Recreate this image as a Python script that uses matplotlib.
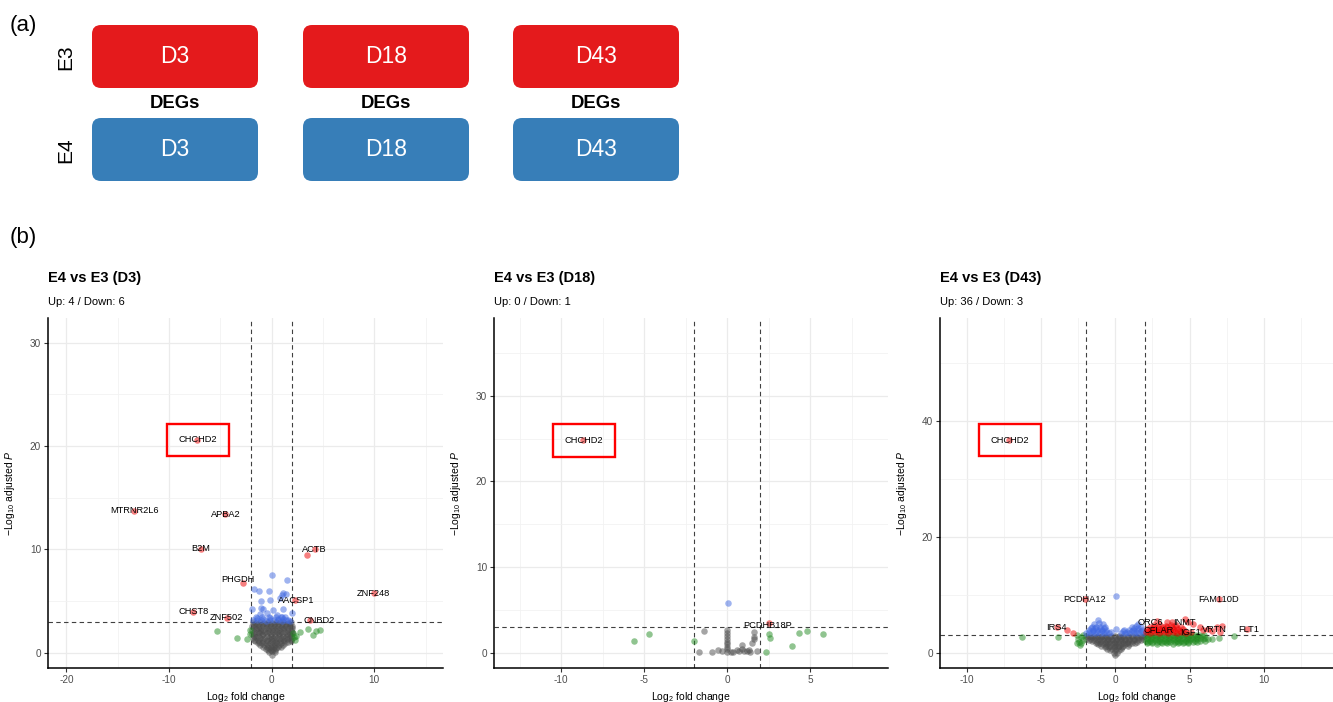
import numpy as np
import matplotlib
matplotlib.use('Agg')
import matplotlib.pyplot as plt
from matplotlib.patches import FancyBboxPatch
from matplotlib.ticker import MultipleLocator

plt.rcParams['font.family'] = ['Liberation Sans', 'DejaVu Sans']
plt.rcParams['mathtext.fontset'] = 'custom'
plt.rcParams['mathtext.rm'] = 'Liberation Sans'
plt.rcParams['mathtext.it'] = 'Liberation Sans:italic'
plt.rcParams['mathtext.bf'] = 'Liberation Sans:bold'
plt.rcParams['axes.unicode_minus'] = False

# design of the comparison
days = ['D3', 'D18', 'D43']
genotypes = ['E3', 'E4']
up_counts = [4, 0, 36]
down_counts = [6, 1, 3]

# ---- D3 volcano: (log2 fold change, -log10 padj) ----
d3_ns = [(-1.85, 2.95), (-1.5, 2.9), (-1.1, 2.97), (-0.75, 2.92), (-0.35, 2.96), (0.05, 2.9), (0.4, 2.95),
         (0.8, 2.93), (1.15, 2.97), (1.55, 2.9), (1.9, 2.95),
         (-1.7, 2.78), (-1.3, 2.76), (-0.9, 2.8), (-0.55, 2.77), (-0.15, 2.79), (0.25, 2.76), (0.6, 2.8),
         (1.0, 2.77), (1.35, 2.79), (1.72, 2.76),
         (-1.95, 2.6), (-1.6, 2.55), (-1.2, 2.62), (-0.85, 2.58), (-0.45, 2.6), (-0.1, 2.55), (0.3, 2.6),
         (0.65, 2.62), (1.0, 2.57), (1.4, 2.6), (1.75, 2.55), (2.0, 2.6),
         (-1.75, 2.4), (-1.35, 2.38), (-1.0, 2.42), (-0.6, 2.39), (-0.25, 2.41), (0.15, 2.38), (0.5, 2.42),
         (0.9, 2.39), (1.25, 2.41), (1.6, 2.38), (1.95, 2.4),
         (-1.9, 2.2), (-1.55, 2.25), (-1.15, 2.18), (-0.8, 2.22), (-0.4, 2.2), (0.0, 2.24), (0.35, 2.18),
         (0.75, 2.2), (1.1, 2.25), (1.5, 2.2), (1.85, 2.18),
         (-1.75, 2.02), (-1.38, 2.0), (-1.0, 2.04), (-0.62, 2.01), (-0.25, 2.03), (0.15, 2.0), (0.5, 2.04),
         (0.88, 2.01), (1.28, 2.03), (1.62, 2.0), (1.95, 2.02),
         (-1.95, 1.85), (-1.6, 1.82), (-1.2, 1.87), (-0.85, 1.84), (-0.45, 1.86), (-0.05, 1.82), (0.3, 1.85),
         (0.7, 1.88), (1.05, 1.83), (1.45, 1.85), (1.8, 1.82), (2.0, 1.86),
         (-1.7, 1.65), (-1.3, 1.63), (-0.9, 1.67), (-0.5, 1.64), (-0.1, 1.66), (0.3, 1.63), (0.7, 1.67),
         (1.1, 1.64), (1.5, 1.66), (1.85, 1.63),
         (-1.85, 1.45), (-1.5, 1.48), (-1.1, 1.42), (-0.7, 1.46), (-0.3, 1.44), (0.1, 1.47), (0.5, 1.43),
         (0.9, 1.46), (1.3, 1.44), (1.7, 1.47), (1.95, 1.42),
         (-1.7, 1.27), (-1.3, 1.25), (-0.9, 1.29), (-0.5, 1.26), (-0.1, 1.28), (0.3, 1.25), (0.7, 1.29),
         (1.1, 1.26), (1.5, 1.28), (1.85, 1.25),
         (-1.6, 1.1), (-1.2, 1.08), (-0.8, 1.12), (-0.4, 1.09), (0.0, 1.11), (0.4, 1.08), (0.8, 1.12),
         (1.2, 1.1), (1.6, 1.07), (1.9, 1.12),
         (-1.3, 0.92), (-0.9, 0.9), (-0.55, 0.94), (-0.2, 0.91), (0.2, 0.93), (0.55, 0.9), (0.9, 0.94),
         (1.3, 0.91),
         (-1.1, 0.75), (-0.7, 0.78), (-0.35, 0.73), (0.0, 0.76), (0.35, 0.74), (0.7, 0.77), (1.1, 0.75),
         (-0.8, 0.57), (-0.45, 0.59), (-0.1, 0.56), (0.25, 0.58), (0.6, 0.55), (0.9, 0.58),
         (-0.6, 0.4), (-0.25, 0.42), (0.1, 0.38), (0.45, 0.41),
         (-0.4, 0.25), (-0.05, 0.26), (0.3, 0.24),
         (-0.3, 0.1), (0.0, 0.12), (0.3, 0.09), (0.0, -0.2)]
d3_fc = [(-5.3, 2.1), (-3.4, 1.4), (-2.45, 1.3), (-2.1, 2.2), (-2.15, 1.8), (2.05, 1.9), (2.15, 1.55),
         (2.4, 1.6), (2.75, 2.05), (2.3, 1.25), (3.55, 2.3), (4.05, 1.7), (4.3, 2.1), (4.7, 2.2)]
d3_p = [(0.0, 7.53), (1.46, 7.04), (-1.72, 6.14), (-1.23, 6.01), (-0.23, 6.01), (1.14, 5.75), (1.4, 5.68),
        (0.97, 5.59), (-1.04, 5.0), (-0.16, 5.1), (0.81, 5.26), (-1.95, 4.2), (-1.04, 4.3), (-0.81, 4.2),
        (0.1, 4.13), (1.07, 4.23), (1.95, 3.88), (-1.14, 3.75), (-0.49, 3.81), (0.49, 3.65), (0.97, 3.42),
        (-1.46, 3.33), (-0.81, 3.23), (-0.16, 3.33), (1.14, 3.23), (1.62, 3.17), (0.65, 3.23),
        (-1.8, 3.15), (-1.4, 3.12), (-1.0, 3.16), (-0.6, 3.1), (-0.2, 3.14), (0.2, 3.12), (0.6, 3.15),
        (1.0, 3.1), (1.4, 3.13), (1.8, 3.1), (-1.5, 3.45), (-0.9, 3.48), (-0.3, 3.44), (0.4, 3.46),
        (0.9, 3.5), (1.3, 3.45)]
d3_sig = [(-7.3, 20.6), (-13.4, 13.76), (-4.5, 13.44), (-6.88, 10.08), (-2.76, 6.72), (3.41, 9.43),
          (4.22, 10.0), (9.97, 5.75), (2.27, 5.1), (-7.63, 3.97), (-4.38, 3.39), (3.73, 3.17)]
d3_labels = [('CHCHD2', -7.2, 20.6), ('MTRNR2L6', -13.34, 13.8), ('APBA2', -4.51, 13.4), ('B2M', -6.88, 10.08),
             ('PHGDH', -3.34, 7.04), ('ACTB', 4.19, 10.0), ('ZNF248', 9.94, 5.75), ('AACSP1', 2.37, 5.07),
             ('CHST8', -7.63, 3.97), ('ZNF502', -4.38, 3.39), ('CNBD2', 4.61, 3.13)]

# ---- D18 volcano ----
d18_ns = [(-1.4, 2.53), (-1.72, 0.12), (-0.9, 0.12), (-0.54, 0.32), (-0.3, 0.2), (0.0, 2.65), (0.0, 2.3),
          (0.0, 1.95), (0.0, 1.6), (0.0, 1.3), (0.0, 1.0), (0.0, 0.7), (0.0, 0.4), (0.0, 0.12), (0.2, 0.1),
          (0.36, 0.12), (0.56, 0.32), (0.7, 0.15), (0.87, 0.39), (1.0, 0.2), (1.17, 0.2), (1.3, 0.3),
          (0.9, 0.9), (1.47, 1.1), (1.61, 1.87), (1.6, 1.6), (1.61, 2.46), (1.81, 0.24), (1.4, 0.1)]
d18_fc = [(-5.6, 1.4), (-4.72, 2.18), (-2.0, 1.4), (2.53, 2.18), (2.57, 1.68), (2.33, 0.12), (3.92, 0.82),
          (4.34, 2.34), (4.82, 2.57), (5.74, 2.14)]
d18_p = [(0.02, 5.77)]
d18_sig = [(-8.7, 24.8), (2.51, 3.43)]
d18_labels = [('CHCHD2', -8.63, 24.8), ('PCDHB18P', 2.41, 3.15)]

# ---- D43 volcano ----
d43_ns = [(-2.0, 2.95), (-1.72, 2.9), (-1.45, 2.97), (-1.15, 2.92), (-0.88, 2.96), (-0.6, 2.9), (-0.3, 2.95),
          (-0.02, 2.92), (0.28, 2.97), (0.55, 2.9), (0.85, 2.95), (1.12, 2.92), (1.42, 2.96), (1.7, 2.9),
          (1.95, 2.94),
          (-1.85, 2.7), (-1.55, 2.68), (-1.25, 2.72), (-0.95, 2.69), (-0.65, 2.71), (-0.35, 2.68),
          (-0.05, 2.72), (0.25, 2.69), (0.55, 2.71), (0.85, 2.68), (1.15, 2.72), (1.45, 2.69), (1.8, 2.7),
          (-1.95, 2.45), (-1.65, 2.4), (-1.35, 2.47), (-1.05, 2.42), (-0.78, 2.46), (-0.5, 2.4), (-0.2, 2.45),
          (0.08, 2.43), (0.38, 2.47), (0.66, 2.41), (0.95, 2.45), (1.25, 2.42), (1.55, 2.46), (1.85, 2.4),
          (-1.75, 2.2), (-1.45, 2.18), (-1.15, 2.22), (-0.85, 2.19), (-0.55, 2.21), (-0.25, 2.18),
          (0.05, 2.22), (0.35, 2.19), (0.65, 2.21), (0.95, 2.18), (1.25, 2.22), (1.5, 2.19), (1.75, 2.25),
          (-1.55, 1.95), (-1.25, 1.92), (-0.95, 1.97), (-0.65, 1.93), (-0.35, 1.96), (-0.05, 1.92),
          (0.25, 1.95), (0.55, 1.97), (0.85, 1.93), (1.15, 1.95), (1.45, 1.92),
          (-1.3, 1.7), (-1.0, 1.68), (-0.7, 1.72), (-0.4, 1.69), (-0.1, 1.71), (0.2, 1.68), (0.5, 1.72),
          (0.8, 1.69), (1.1, 1.71), (1.3, 1.68),
          (-1.15, 1.45), (-0.85, 1.42), (-0.55, 1.47), (-0.25, 1.44), (0.05, 1.46), (0.35, 1.42),
          (0.65, 1.45), (0.95, 1.43),
          (-0.95, 1.2), (-0.65, 1.18), (-0.35, 1.22), (-0.05, 1.19), (0.25, 1.21), (0.55, 1.18), (0.85, 1.2),
          (-0.7, 0.95), (-0.42, 0.92), (-0.12, 0.97), (0.18, 0.93), (0.48, 0.96),
          (-0.55, 0.7), (-0.25, 0.68), (0.05, 0.72), (0.35, 0.69),
          (-0.35, 0.45), (-0.05, 0.42), (0.25, 0.46), (-0.12, 0.0), (0.12, 0.02), (0.0, -0.35)]
d43_fc = [(2.05, 3.1), (2.35, 3.05), (2.65, 3.12), (2.95, 3.08), (3.25, 3.1), (3.55, 3.05), (3.85, 3.12),
          (4.15, 3.07), (4.45, 3.1), (4.75, 3.05), (5.05, 3.1), (5.35, 3.08), (5.65, 3.12), (5.95, 3.05),
          (2.2, 2.85), (2.5, 2.83), (2.8, 2.87), (3.1, 2.84), (3.4, 2.86), (3.7, 2.83), (4.0, 2.87),
          (4.3, 2.84), (4.6, 2.86), (4.9, 2.83), (5.2, 2.87), (5.5, 2.84), (5.8, 2.86),
          (2.1, 2.6), (2.4, 2.55), (2.7, 2.62), (3.0, 2.58), (3.3, 2.6), (3.6, 2.55), (3.9, 2.62), (4.2, 2.58),
          (4.5, 2.6), (4.8, 2.55), (5.1, 2.62), (5.4, 2.58), (5.7, 2.6), (6.0, 2.55), (6.2, 2.4),
          (2.2, 2.35), (2.5, 2.33), (2.8, 2.37), (3.1, 2.34), (3.4, 2.36), (3.7, 2.33), (4.0, 2.37),
          (4.3, 2.34), (4.6, 2.36), (4.9, 2.33), (5.2, 2.37), (5.5, 2.34), (5.9, 2.3),
          (2.05, 2.1), (2.35, 2.05), (2.65, 2.12), (2.95, 2.08), (3.25, 2.1), (3.55, 2.05), (3.85, 2.12),
          (4.15, 2.08), (4.45, 2.1), (4.75, 2.05), (5.05, 2.12), (5.35, 2.08), (5.7, 2.1), (6.05, 2.05),
          (2.2, 1.85), (2.5, 1.83), (2.8, 1.87), (3.1, 1.84), (3.4, 1.86), (3.7, 1.83), (4.0, 1.87),
          (4.3, 1.84), (4.6, 1.86), (4.9, 1.83), (5.2, 1.87), (5.5, 1.84),
          (2.1, 1.6), (2.45, 1.62), (2.8, 1.58), (3.15, 1.6), (3.5, 1.63), (3.85, 1.58), (4.2, 1.6),
          (4.55, 1.62), (4.9, 1.7),
          (-2.6, 3.0), (-2.3, 2.7), (-2.5, 2.4), (-2.2, 2.2), (-2.45, 1.9), (-2.38, 1.32), (-2.55, 1.6),
          (-2.15, 3.1), (-2.3, 1.7),
          (-6.3, 2.77), (-3.88, 2.77), (6.99, 2.48), (8.0, 2.94), (6.5, 2.3)]
d43_p = [(-1.95, 3.4), (-1.65, 3.38), (-1.35, 3.42), (-1.05, 3.4), (-0.75, 3.37), (-0.45, 3.41),
         (-1.8, 3.65), (-1.5, 3.68), (-1.2, 3.64), (-0.9, 3.67), (-0.6, 3.65),
         (-1.8, 3.9), (-1.5, 3.95), (-1.2, 3.88), (-0.9, 3.92), (-0.6, 3.9), (-0.3, 3.5),
         (-1.65, 4.2), (-1.35, 4.22), (-1.05, 4.18), (-0.75, 4.2),
         (-1.6, 4.45), (-1.3, 4.5), (-1.0, 4.42), (-0.7, 4.4), (-1.4, 5.0), (-1.1, 5.1), (-0.85, 4.9),
         (-1.15, 5.6),
         (0.35, 3.4), (0.65, 3.42), (0.95, 3.38), (1.25, 3.41), (1.55, 3.4), (1.85, 3.38),
         (0.5, 3.68), (0.8, 3.65), (1.1, 3.7), (1.4, 3.66), (1.7, 3.68),
         (0.6, 3.95), (0.9, 3.9), (1.2, 3.97), (1.5, 3.92), (1.8, 3.95), (1.1, 4.5), (1.4, 4.55),
         (1.7, 4.45), (1.25, 4.22), (1.55, 4.25), (1.55, 5.0), (0.05, 4.03), (0.03, 9.8)]
d43_sig = [(2.05, 3.5), (2.35, 3.45), (2.65, 3.52), (2.95, 3.48), (3.25, 3.5), (3.55, 3.45), (3.85, 3.52),
           (4.15, 3.48), (4.45, 3.5), (4.75, 3.45), (5.1, 3.5),
           (2.2, 3.8), (2.5, 3.78), (2.8, 3.82), (3.1, 3.79), (3.4, 3.81), (3.7, 3.78), (4.0, 3.82),
           (4.35, 3.79), (4.7, 3.8),
           (2.1, 4.1), (2.4, 4.05), (2.7, 4.12), (3.0, 4.08), (3.3, 4.1), (3.6, 4.05), (3.9, 4.12), (4.2, 4.08),
           (4.55, 4.1),
           (2.3, 4.4), (2.6, 4.38), (2.9, 4.42), (3.2, 4.39), (3.5, 4.41), (3.8, 4.38), (4.1, 4.42), (4.4, 4.39),
           (2.6, 4.7), (3.0, 4.72), (3.4, 4.68), (3.75, 4.7), (4.1, 4.75), (3.5, 5.3), (3.8, 5.25),
           (2.78, 5.53), (4.69, 5.76), (5.25, 4.96), (4.91, 5.36), (5.7, 4.5), (6.26, 4.04), (6.82, 4.38),
           (7.04, 3.63), (7.15, 4.6), (6.5, 3.7), (5.9, 3.9), (8.83, 4.03), (6.95, 9.27), (-2.02, 9.27),
           (-3.9, 4.38), (-3.23, 3.92), (-2.87, 3.46), (-7.13, 36.7)]
d43_labels = [('CHCHD2', -7.09, 36.7), ('PCDHA12', -2.08, 9.27), ('FAM110D', 6.95, 9.27), ('IRS4', -3.94, 4.38),
              ('ORC6', 2.33, 5.18), ('INMT', 4.62, 5.18), ('CFLAR', 2.89, 3.75), ('IGF1', 5.07, 3.46),
              ('VRTN', 6.66, 4.03), ('FLT1', 8.95, 4.03)]

highlight_gene = 'CHCHD2'
fc_cut = 2.0
p_cut = 3.0

COL_NS, COL_FC, COL_P, COL_BOTH = '#4D4D4D', '#228B22', '#4169E1', '#EE0000'
SET1_RED, SET1_BLUE = '#E41A1C', '#377EB8'

fig = plt.figure(figsize=(13.33, 7.02), dpi=100)

# ---- panel (a): sample layout ----
ax0 = fig.add_axes([0, 0, 1, 1])
ax0.set_xlim(0, 1333)
ax0.set_ylim(702, 0)
ax0.axis('off')
col_x = [92, 303, 513]
row_y = {'E3': 25, 'E4': 118}
row_col = {'E3': SET1_RED, 'E4': SET1_BLUE}
bw, bh = 166, 63
for g in genotypes:
    for d, x0 in zip(days, col_x):
        ax0.add_patch(FancyBboxPatch((x0, row_y[g]), bw, bh, boxstyle='round,pad=0,rounding_size=9',
                                     fc=row_col[g], ec='none'))
        ax0.text(x0 + bw / 2, row_y[g] + bh / 2, d, color='white', fontsize=16.5,
                 ha='center', va='center')
    ax0.text(66, row_y[g] + bh / 2 + 1, g, fontsize=15, rotation=90, ha='center', va='center')
for x0 in col_x:
    ax0.text(x0 + bw / 2, 104, 'DEGs', fontsize=13.3, fontweight='bold', ha='center', va='center')
ax0.text(10, 25, '(a)', fontsize=16, ha='left', va='center')
ax0.text(10, 238, '(b)', fontsize=16, ha='left', va='center')


def volcano(rect, ns, fc, p, both, labels, xlim, ylim, xstep, ystep, day, up, down):
    ax = fig.add_axes(rect)
    for pts, c in [(ns, COL_NS), (fc, COL_FC), (p, COL_P), (both, COL_BOTH)]:
        a = np.array(pts)
        ax.scatter(a[:, 0], a[:, 1], s=22, color=c, alpha=0.5, linewidths=0, zorder=3)
    for name, x, y in labels:
        kw = {}
        if name == highlight_gene:
            kw['bbox'] = dict(boxstyle='square,pad=1.25', fc='none', ec='#FF0000', lw=1.7)
        ax.text(x, y, name, fontsize=6.7, ha='center', va='center', zorder=5, **kw)
    for v in (-fc_cut, fc_cut):
        ax.axvline(v, color='#404040', lw=0.8, ls=(0, (4, 3)), zorder=2)
    ax.axhline(p_cut, color='#404040', lw=0.8, ls=(0, (4, 3)), zorder=2)
    ax.set_xlim(*xlim)
    ax.set_ylim(*ylim)
    ax.xaxis.set_major_locator(MultipleLocator(xstep))
    ax.xaxis.set_minor_locator(MultipleLocator(xstep / 2))
    ax.yaxis.set_major_locator(MultipleLocator(ystep))
    ax.yaxis.set_minor_locator(MultipleLocator(ystep / 2))
    ax.grid(which='major', color='#EBEBEB', lw=0.9, zorder=0)
    ax.grid(which='minor', color='#F2F2F2', lw=0.6, zorder=0)
    ax.set_axisbelow(True)
    ax.tick_params(which='major', direction='out', length=3, width=0.8, color='#333333',
                   labelcolor='#4D4D4D', labelsize=7.2, pad=2)
    ax.tick_params(which='minor', length=0)
    for s in ('top', 'right'):
        ax.spines[s].set_visible(False)
    for s in ('left', 'bottom'):
        ax.spines[s].set_linewidth(1.1)
    ax.set_xlabel(r'$\mathregular{Log_{2}}$ fold change', fontsize=7.5)
    ax.set_ylabel(r'$\mathregular{-Log_{10}}$ adjusted $\mathit{P}$', fontsize=7.5)
    ax.xaxis.set_label_coords(0.5, -0.064)
    ax.yaxis.set_label_coords(-0.078, 0.5)
    x0 = rect[0]
    fig.text(x0, 0.604, f'E4 vs E3 ({day})', fontsize=10.5, fontweight='bold', ha='left', va='center')
    fig.text(x0, 0.570, f'Up: {up} / Down: {down}', fontsize=8, ha='left', va='center')
    return ax


bottom, height = 34 / 702, 350 / 702
volcano([48 / 1333, bottom, 395 / 1333, height], d3_ns, d3_fc, d3_p, d3_sig, d3_labels,
        (-21.8, 16.7), (-1.48, 32.4), 10, 10, days[0], up_counts[0], down_counts[0])
volcano([494 / 1333, bottom, 394 / 1333, height], d18_ns, d18_fc, d18_p, d18_sig, d18_labels,
        (-14.04, 9.68), (-1.79, 39.1), 5, 10, days[1], up_counts[1], down_counts[1])
volcano([940 / 1333, bottom, 393 / 1333, height], d43_ns, d43_fc, d43_p, d43_sig, d43_labels,
        (-11.79, 14.64), (-2.64, 57.8), 5, 20, days[2], up_counts[2], down_counts[2])

fig.savefig('out.png', dpi=100)
